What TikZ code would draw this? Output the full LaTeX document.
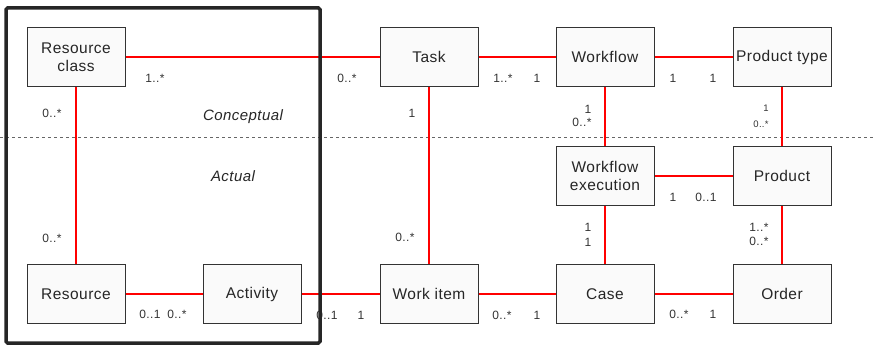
\documentclass[tikz,border=0pt]{standalone}
\usepackage{fontspec}
\setmainfont{Liberation Sans}[LetterSpace=3]
\begin{document}
\begin{tikzpicture}[x=1pt,y=-1pt,
  ent/.style={draw=black!80,fill=black!2,line width=1pt,minimum width=98pt,minimum height=59pt,inner sep=1pt,align=center,font=\fontsize{15.5}{18.5}\selectfont,text=black!85},
  assoc/.style={draw=red,line width=1.5pt},
  mult/.style={font=\fontsize{12}{13}\selectfont,text=black!80,inner sep=0pt},
  smult/.style={font=\fontsize{9.5}{10}\selectfont,text=black!80,inner sep=0pt},
  lvl/.style={font=\itshape\fontsize{15}{16}\selectfont,text=black!85,inner sep=1pt}]
\useasboundingbox (0,0) rectangle (876,345);
\draw[dashed,black!60,line width=0.6pt] (0,137.5) -- (876,137.5);
% entities
\node[ent] (rc) at (76,57) {Resource\\class};
\node[ent] (task) at (429,57) {Task};
\node[ent] (wf) at (605,57) {Workflow};
\node[ent] (pt) at (782,57) {Product type};
\node[ent] (wfe) at (605,176) {Workflow\\execution};
\node[ent] (prod) at (782,176) {Product};
\node[ent] (res) at (76,294) {Resource};
\node[ent] (act) at (252,294) {Activity};
\node[ent] (wi) at (429,294) {Work item};
\node[ent] (case) at (605,294) {Case};
\node[ent] (ord) at (782,294) {Order};
% associations
\draw[assoc] (rc) -- (task);
\draw[assoc] (rc) -- (res);
\draw[assoc] (res) -- (act);
\draw[assoc] (act) -- (wi);
\draw[assoc] (task) -- (wi);
\draw[assoc] (task) -- (wf);
\draw[assoc] (wf) -- (pt);
\draw[assoc] (wf) -- (wfe);
\draw[assoc] (pt) -- (prod);
\draw[assoc] (wfe) -- (prod);
\draw[assoc] (wfe) -- (case);
\draw[assoc] (prod) -- (ord);
\draw[assoc] (wi) -- (case);
\draw[assoc] (case) -- (ord);
% level labels
\node[lvl] (lc) at (243,117) {Conceptual};
\node[lvl] (la) at (233,176) {Actual};
% multiplicities
\node[mult] (m1) at (155,78) {1..*};
\node[mult] (m2) at (52,113) {0..*};
\node[mult] (m3) at (52,238) {0..*};
\node[mult] (m4) at (150,314) {0..1};
\node[mult] (m5) at (177,314) {0..*};
\node[mult] (m6) at (347,78) {0..*};
\node[mult] (m7) at (503,78) {1..*};
\node[mult] (m8) at (537,78) {1};
\node[mult] (m9) at (412,113) {1};
\node[mult] (m10) at (588,109) {1};
\node[mult] (m11) at (582,122) {0..*};
\node[mult] (m12) at (673,78) {1};
\node[mult] (m13) at (713,78) {1};
\node[smult] (m14) at (766,108) {1};
\node[smult] (m15) at (761,124) {0..*};
\node[mult] (m16) at (673,197) {1};
\node[mult] (m17) at (706,197) {0..1};
\node[mult] (m18) at (405,237) {0..*};
\node[mult] (m19) at (327,315) {0..1};
\node[mult] (m20) at (361,315) {1};
\node[mult] (m21) at (502,315) {0..*};
\node[mult] (m22) at (537,315) {1};
\node[mult] (m23) at (588,227) {1};
\node[mult] (m24) at (588,242) {1};
\node[mult] (m25) at (759,227) {1..*};
\node[mult] (m26) at (759,241) {0..*};
\node[mult] (m27) at (679,314) {0..*};
\node[mult] (m28) at (713,314) {1};
% frame
\draw[line width=3.5pt,black!85,rounded corners=1.5pt] (6,8) rectangle (320,343);
\end{tikzpicture}
\end{document}
